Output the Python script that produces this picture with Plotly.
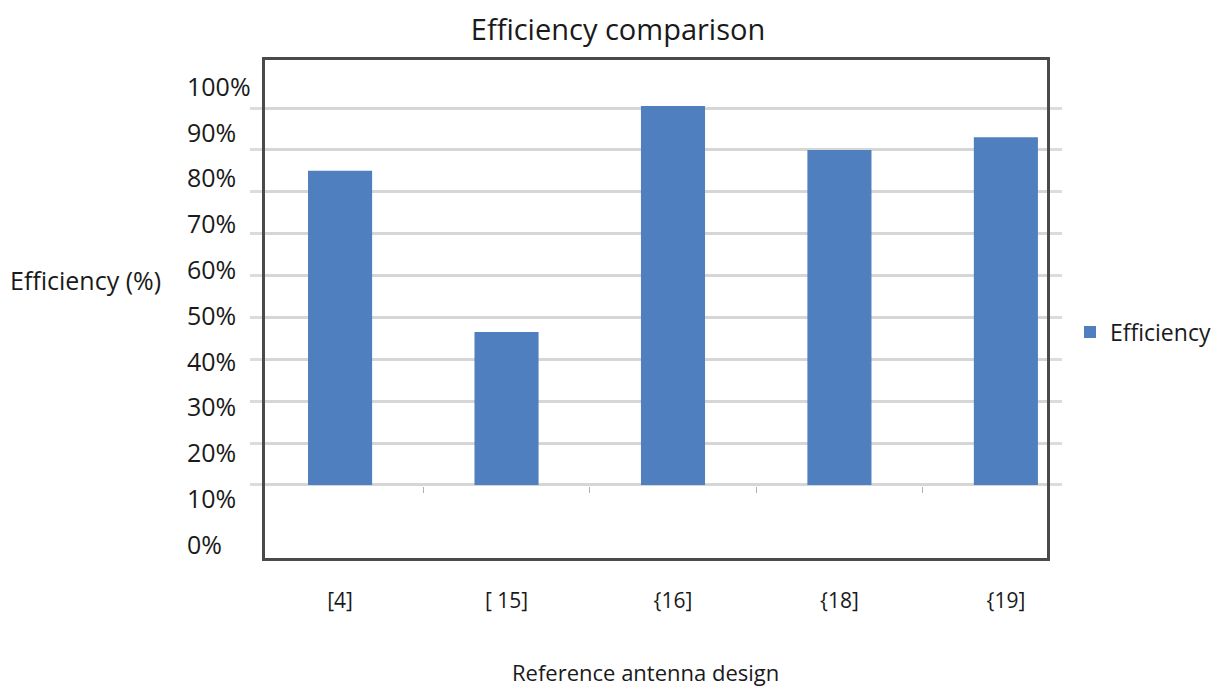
import plotly.graph_objects as go

# ---- data ----
categories = ["[4]", "[ 15]", "{16]", "{18]", "{19]"]
efficiency = [85, 46.5, 100.5, 90, 93]
bar_base = 10
grid_ticks = [10, 20, 30, 40, 50, 60, 70, 80, 90, 100]
label_ticks = [0, 10, 20, 30, 40, 50, 60, 70, 80, 90, 100]
label_text = [f"{v}%" for v in label_ticks]
boundary_ticks = [0.5, 1.5, 2.5, 3.5]

OFF = 8  # default page body margin
W, H = 1232 - OFF, 693 - OFF
FONT = "Open Sans, sans-serif"
TXT = "#1a1a1a"

def px_x(p):
    return (p - OFF) / W

def px_y(p):
    return 1 - (p - OFF) / H

x_dom = [px_x(265), px_x(1047)]
y_dom = [px_y(558), px_y(60)]
x_range = [-0.451, 4.247]

fig = go.Figure()
fig.add_trace(go.Bar(
    x=categories, y=[v - bar_base for v in efficiency], base=bar_base,
    name="Efficiency", width=0.385,
    marker=dict(color="#4F7FBE", line=dict(width=0)),
    xaxis="x", yaxis="y",
))
# helper traces so overlay axes are drawn
fig.add_trace(go.Scatter(x=[None], y=[None], xaxis="x", yaxis="y2",
                         showlegend=False, hoverinfo="skip"))
fig.add_trace(go.Scatter(x=[None], y=[None], xaxis="x2", yaxis="y",
                         showlegend=False, hoverinfo="skip"))

fig.update_layout(
    width=W, height=H,
    margin=dict(l=0, r=0, t=0, b=0),
    paper_bgcolor="white", plot_bgcolor="white",
    font=dict(family=FONT, color=TXT, size=22),
    showlegend=True,
    title=dict(text="Efficiency comparison", x=px_x(618), y=px_y(30),
               xanchor="center", yanchor="middle", xref="paper", yref="paper",
               font=dict(family=FONT, size=29, color=TXT)),
    xaxis=dict(type="category", domain=x_dom, range=x_range,
               showgrid=False, showline=True, linecolor="#4a4a4a", linewidth=3,
               mirror=True, ticks="", tickfont=dict(size=21, color=TXT),
               ticklabelstandoff=22, automargin=False),
    xaxis2=dict(domain=x_dom, range=x_range, overlaying="x", anchor="free",
                position=px_y(486), tickmode="array", tickvals=boundary_ticks,
                ticks="outside", ticklen=6, tickwidth=1, tickcolor="#b0b0b0",
                showticklabels=False, showgrid=False, showline=False,
                zeroline=False, automargin=False),
    yaxis=dict(domain=y_dom, range=[-7.43, 111.46], tickmode="array",
               tickvals=grid_ticks, showgrid=True, gridcolor="#d6d6d6",
               gridwidth=3, zeroline=False, showticklabels=False,
               ticks="outside", ticklen=12, tickwidth=3, tickcolor="#dcdcdc",
               showline=True, linecolor="#4a4a4a", linewidth=3, mirror="ticks",
               automargin=False),
    yaxis2=dict(overlaying="y", anchor="free", position=px_x(183), side="left",
                range=[-2.84, 105.9], tickmode="array", tickvals=label_ticks,
                ticktext=label_text, ticklabelposition="inside",
                ticklabeloverflow="allow", ticks="",
                showgrid=False, showline=False, zeroline=False,
                tickfont=dict(size=25, color=TXT), automargin=False),
    legend=dict(x=px_x(1070), y=px_y(332), xanchor="left", yanchor="middle",
                font=dict(size=23, color=TXT), bgcolor="rgba(0,0,0,0)"),
    annotations=[
        dict(text="Efficiency (%)", x=px_x(85), y=px_y(280), xref="paper",
             yref="paper", showarrow=False, xanchor="center", yanchor="middle",
             font=dict(size=25, color=TXT)),
        dict(text="Reference antenna design", x=px_x(645), y=px_y(672),
             xref="paper", yref="paper", showarrow=False, xanchor="center",
             yanchor="middle", font=dict(size=22, color=TXT)),
    ],
)

fig.write_html("out.html")
